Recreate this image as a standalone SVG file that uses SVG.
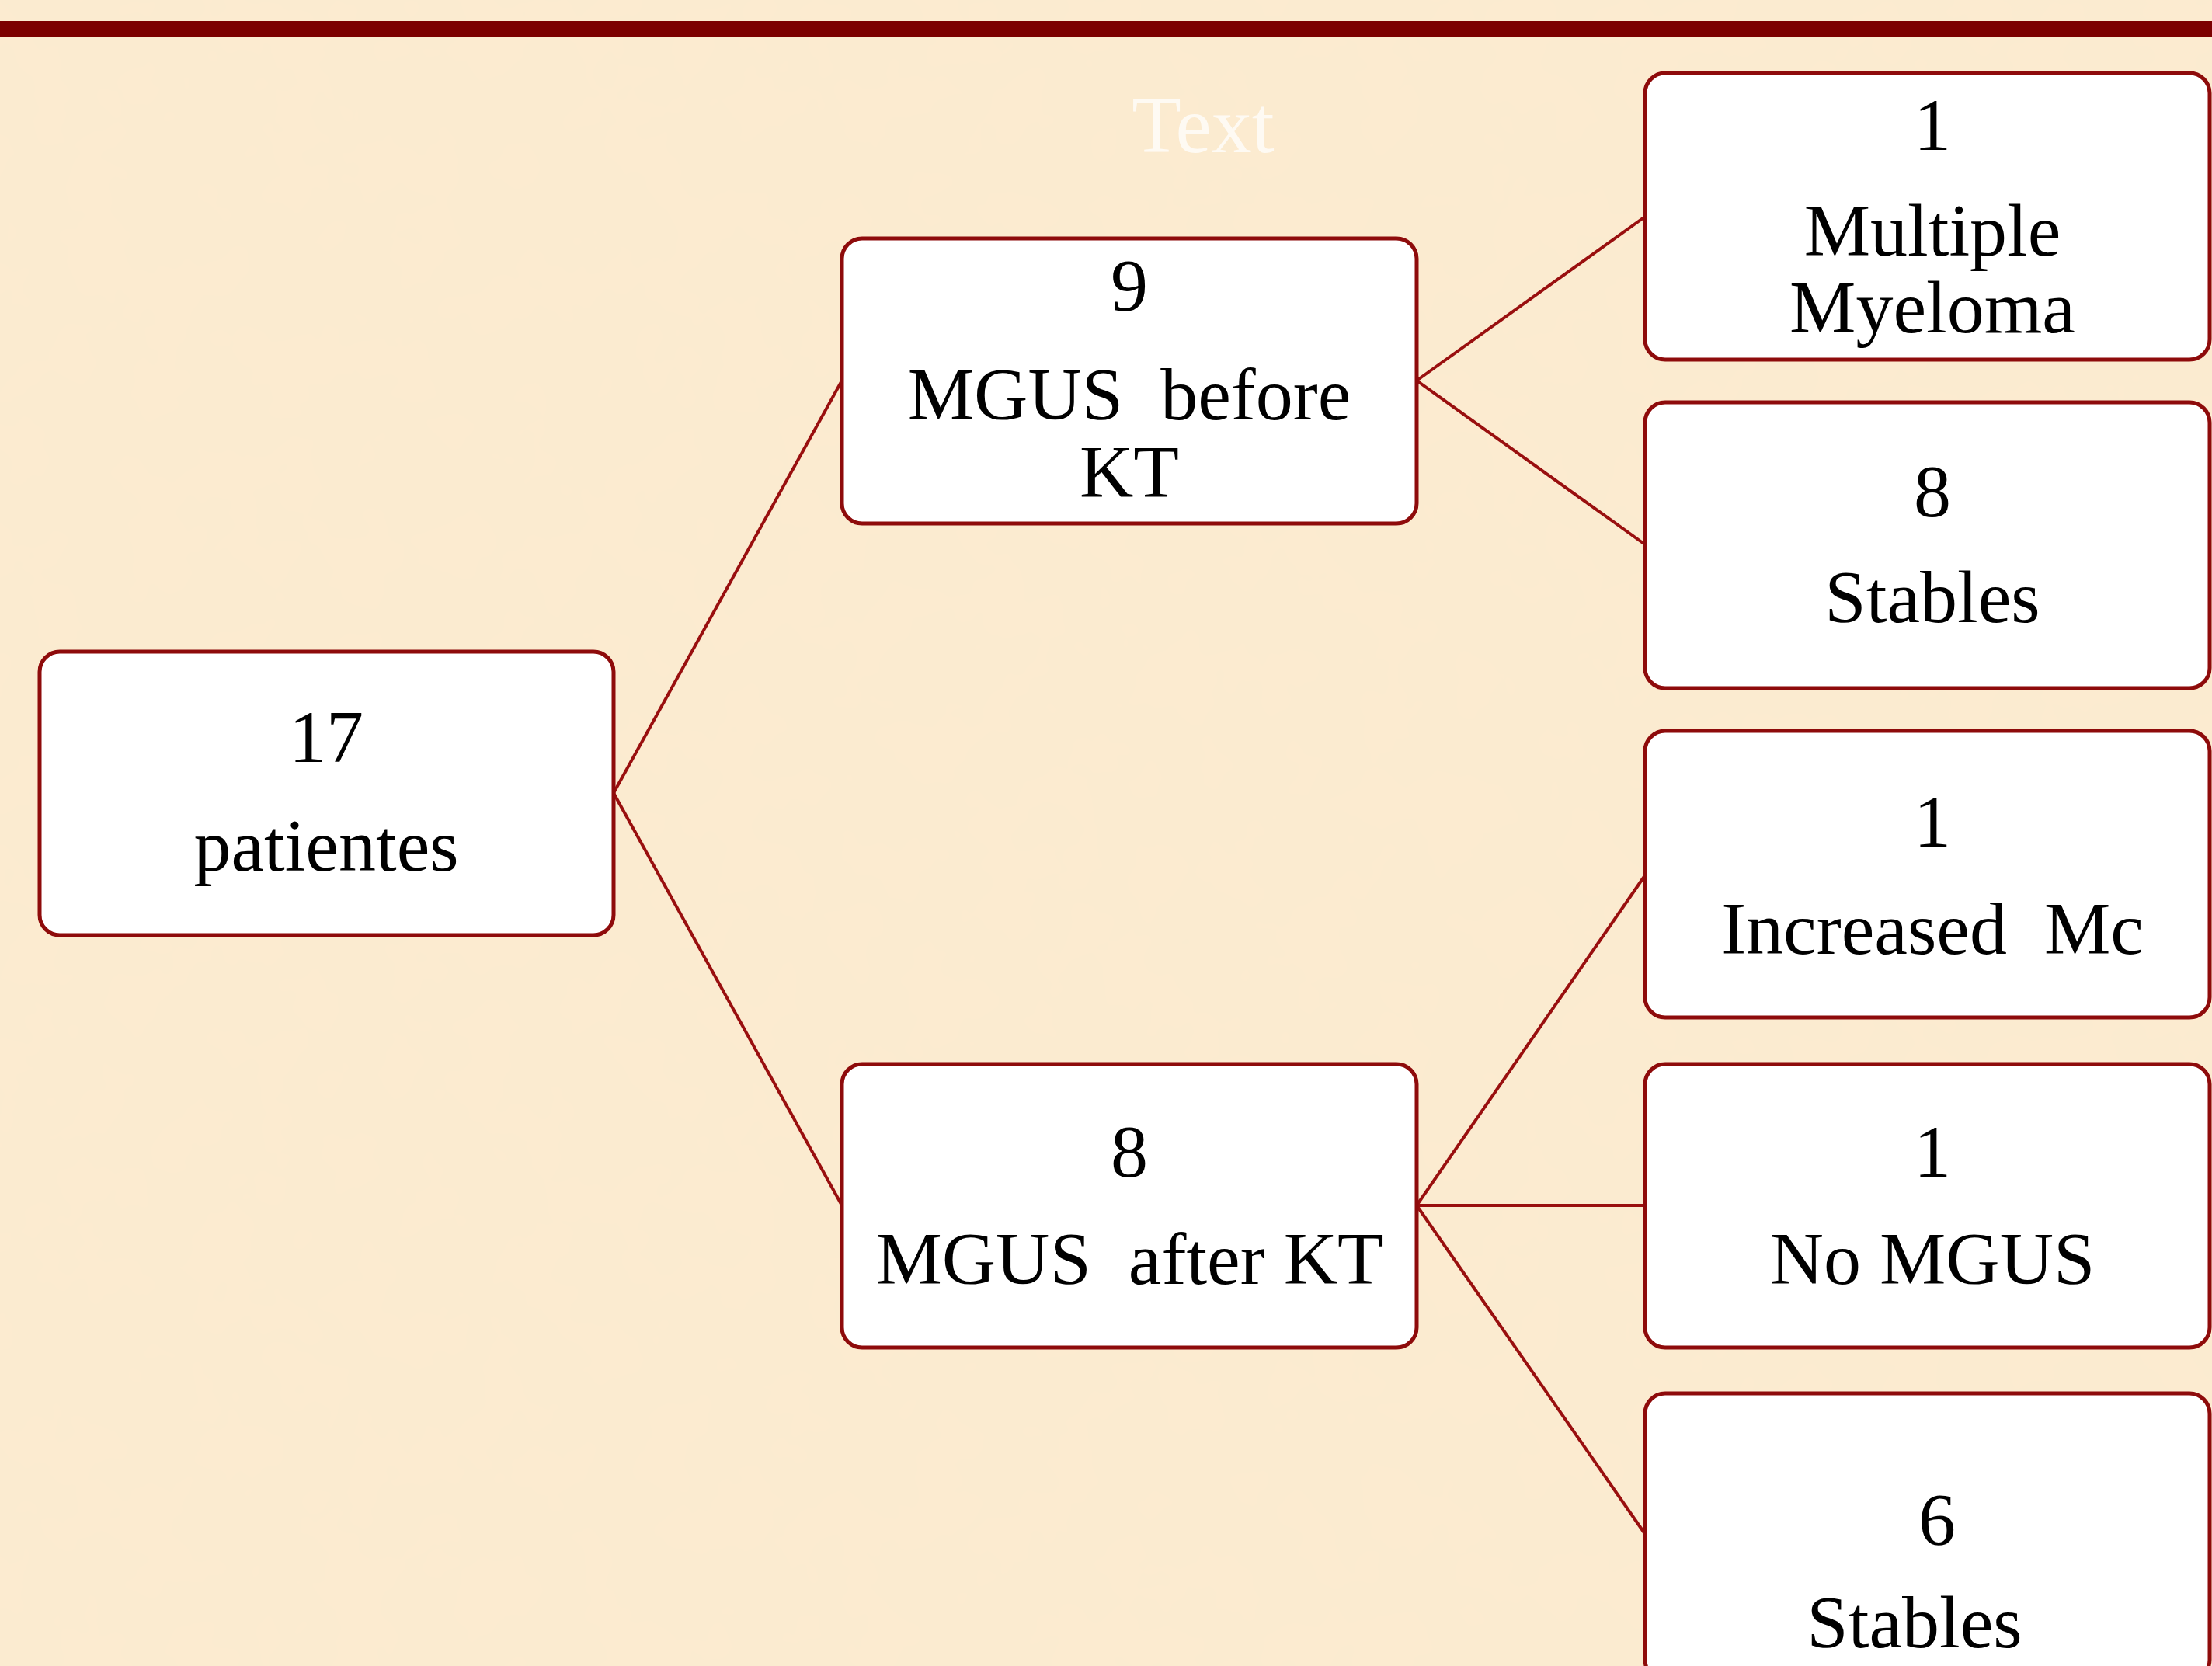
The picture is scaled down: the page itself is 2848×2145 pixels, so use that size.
<svg xmlns="http://www.w3.org/2000/svg" width="2848" height="2145" viewBox="0 0 2848 2145">
  <defs>
    <filter id="parch" x="0" y="0" width="100%" height="100%">
      <feTurbulence type="fractalNoise" baseFrequency="0.012" numOctaves="3" seed="7" result="n"/>
      <feColorMatrix in="n" type="matrix" values="0 0 0 0 0.93  0 0 0 0 0.82  0 0 0 0 0.62  0 0 0 0.55 -0.18" result="c"/>
      <feComposite in="c" in2="SourceGraphic" operator="over"/>
    </filter>
  </defs>
  <style>
    .node rect { fill: #ffffff; stroke: #8e0b0b; stroke-width: 5; }
    .node text { font-family: "Liberation Serif", "Times New Roman", serif; font-size: 96px; fill: #000000; text-anchor: middle; }
    .conn line { stroke: #990f0f; stroke-width: 4; fill: none; }
  </style>
  <rect x="0" y="0" width="2848" height="2145" fill="#fcebd0" filter="url(#parch)"/>
  <rect x="0" y="27" width="2848" height="20" fill="#7c0000"/>
  <text x="1549" y="196" font-family="Liberation Serif, Times New Roman, serif" font-size="104" fill="#ffffff" fill-opacity="0.75" text-anchor="middle">Text</text>

  <g id="connectors" class="conn">
    <line x1="790" y1="1021" x2="1084" y2="490"/>
    <line x1="790" y1="1021" x2="1084" y2="1552"/>
    <line x1="1824" y1="490" x2="2118" y2="279"/>
    <line x1="1824" y1="490" x2="2118" y2="701"/>
    <line x1="1824" y1="1552" x2="2118" y2="1127"/>
    <line x1="1824" y1="1552" x2="2118" y2="1552"/>
    <line x1="1824" y1="1552" x2="2118" y2="1975"/>
  </g>

  <g id="n-root" class="node">
    <rect x="51" y="839" width="739" height="365" rx="26"/>
    <text x="420" y="981">17</text>
    <text x="420" y="1121">patientes</text>
  </g>
  <g id="n-before" class="node">
    <rect x="1084" y="307" width="740" height="367" rx="26"/>
    <text x="1454" y="400">9</text>
    <text x="1454" y="540" xml:space="preserve">MGUS  before</text>
    <text x="1454" y="640">KT</text>
  </g>
  <g id="n-after" class="node">
    <rect x="1084" y="1370" width="740" height="365" rx="26"/>
    <text x="1454" y="1515">8</text>
    <text x="1454" y="1653" xml:space="preserve">MGUS  after KT</text>
  </g>
  <g id="n-mm" class="node">
    <rect x="2118" y="94" width="727" height="369" rx="26"/>
    <text x="2488" y="193">1</text>
    <text x="2488" y="329">Multiple</text>
    <text x="2488" y="428">Myeloma</text>
  </g>
  <g id="n-stable1" class="node">
    <rect x="2118" y="518" width="727" height="368" rx="26"/>
    <text x="2488" y="665">8</text>
    <text x="2488" y="801">Stables</text>
  </g>
  <g id="n-incr" class="node">
    <rect x="2118" y="941" width="727" height="369" rx="26"/>
    <text x="2488" y="1090">1</text>
    <text x="2488" y="1228" xml:space="preserve">Increased  Mc</text>
  </g>
  <g id="n-nomgus" class="node">
    <rect x="2118" y="1370" width="727" height="365" rx="26"/>
    <text x="2488" y="1515">1</text>
    <text x="2488" y="1653">No MGUS</text>
  </g>
  <g id="n-stable2" class="node">
    <rect x="2118" y="1794" width="727" height="369" rx="26"/>
    <text x="2494" y="1989">6</text>
    <text x="2465" y="2121">Stables</text>
  </g>
</svg>
